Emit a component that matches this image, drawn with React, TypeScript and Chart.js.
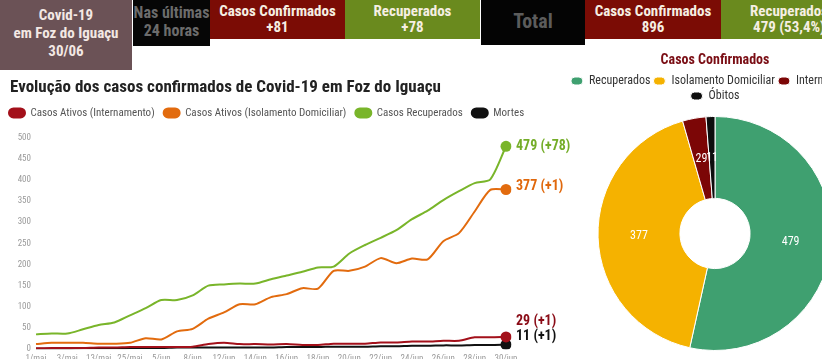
import React, { useEffect, useRef } from 'react';
import { Chart, registerables } from 'chart.js';

Chart.register(...registerables);

const FONT = "'Roboto Condensed', 'Liberation Sans Narrow', 'DejaVu Sans Condensed', 'Roboto', sans-serif";

// ---- Line chart data ----
const categories = [
  '1/mai', '2/mai', '3/mai', '8/mai', '13/mai', '19/mai', '25/mai', '30/mai',
  '5/jun', '6/jun', '8/jun', '10/jun', '12/jun', '13/jun', '14/jun', '15/jun',
  '16/jun', '17/jun', '18/jun', '19/jun', '20/jun', '21/jun', '22/jun', '23/jun',
  '24/jun', '25/jun', '26/jun', '27/jun', '28/jun', '29/jun', '30/jun',
];
const internamento = [2, 3, 3, 3, 4, 4, 5, 5, 5, 5, 6, 12, 15, 12, 12, 11, 12, 10, 10, 13, 13, 13, 16, 16, 18, 18, 20, 20, 28, 28, 29];
const isolamento = [12, 15, 15, 15, 13, 13, 15, 26, 23, 42, 48, 72, 87, 106, 106, 123, 130, 144, 143, 185, 185, 195, 215, 203, 214, 212, 255, 274, 325, 376, 377];
const recuperados = [35, 37, 37, 47, 57, 63, 80, 97, 116, 116, 127, 150, 153, 155, 155, 165, 174, 183, 193, 195, 226, 246, 263, 281, 307, 327, 352, 373, 392, 401, 479];
const mortes = [1, 1, 1, 2, 2, 2, 3, 3, 3, 4, 4, 4, 4, 4, 4, 4, 5, 5, 5, 6, 6, 6, 7, 7, 8, 8, 9, 9, 10, 10, 11];

const seriesNames = ['Casos Ativos (Internamento)', 'Casos Ativos (Isolamento Domiciliar)', 'Casos Recuperados', 'Mortes'];
const seriesColors = ['#a3101a', '#e26b0e', '#79b52a', '#111111'];
const endLabels = ['29 (+1)', '377 (+1)', '479 (+78)', '11 (+1)'];
const endLabelColors = ['#8a0b16', '#e0680c', '#74ad28', '#111111'];
const endLabelShift = [-15, -3, 0, -8];
const yTicks = { min: 0, max: 500, step: 50 };

// ---- Doughnut data ----
const pieLabels = ['Recuperados', 'Isolamento Domiciliar', 'Internamento', 'Óbitos'];
const pieValues = [479, 377, 29, 11];
const pieColors = ['#3fa070', '#f5b200', '#7c0606', '#0d0d0d'];

// ---- Header ----
const headerBoxes = [
  { lines: ['Covid-19', 'em Foz do Iguaçu', '30/06'], left: 0, width: 132, height: 70, bg: '#6b5256', color: '#f3e8e4', size: 15, weight: 700, lh: 18, pt: 6 },
  { lines: ['Nas últimas', '24 horas'], left: 133, width: 77, height: 46, bg: '#060606', color: '#6c6c6c', size: 16, weight: 700, lh: 18, pt: 4 },
  { lines: ['Casos Confirmados', '+81'], left: 210, width: 135, height: 39, bg: '#7b0c05', color: '#f6efe3', size: 15, weight: 700, lh: 16, pt: 3 },
  { lines: ['Recuperados', '+78'], left: 345, width: 135, height: 39, bg: '#6a8a1e', color: '#f6efe3', size: 15, weight: 700, lh: 16, pt: 3 },
  { lines: ['Total'], left: 481, width: 104, height: 45, bg: '#040404', color: '#5c5c5c', size: 20, weight: 700, lh: 24, pt: 9 },
  { lines: ['Casos Confirmados', '896'], left: 585, width: 136, height: 39, bg: '#7b0c05', color: '#f6efe3', size: 15, weight: 700, lh: 16, pt: 3 },
  { lines: ['Recuperados', '479 (53,4%)'], left: 721, width: 136, height: 39, bg: '#6a8a1e', color: '#f6efe3', size: 15, weight: 700, lh: 16, pt: 3 },
];

const endLabelPlugin = {
  id: 'endLabels',
  afterDatasetsDraw(chart: any) {
    const ctx = chart.ctx;
    chart.data.datasets.forEach((_ds: any, i: number) => {
      const meta = chart.getDatasetMeta(i);
      const pt = meta.data[meta.data.length - 1];
      if (!pt) return;
      ctx.save();
      ctx.font = `bold 14px ${FONT}`;
      ctx.fillStyle = endLabelColors[i];
      ctx.textBaseline = 'middle';
      ctx.textAlign = 'left';
      ctx.fillText(endLabels[i], pt.x + 10, pt.y + endLabelShift[i]);
      ctx.restore();
    });
  },
};

const makeLayoutTweak = (extraLegend: number, titleShift: number) => ({
  id: 'layoutTweak',
  beforeLayout(chart: any) {
    const lg = chart.legend;
    if (lg && !lg._patched) {
      const orig = lg.fit;
      lg.fit = function () {
        orig.call(this);
        this.height += extraLegend;
      };
      lg._patched = true;
    }
  },
  afterLayout(chart: any) {
    const t = chart.titleBlock;
    if (t && titleShift) {
      t.left += titleShift;
      t.right += titleShift;
    }
  },
});

const pieLabelPlugin = {
  id: 'pieLabels',
  afterDatasetsDraw(chart: any) {
    const ctx = chart.ctx;
    const meta = chart.getDatasetMeta(0);
    meta.data.forEach((arc: any, i: number) => {
      const p = arc.getCenterPoint();
      ctx.save();
      ctx.font = `12px ${FONT}`;
      ctx.fillStyle = '#ffffff';
      ctx.textAlign = 'center';
      ctx.textBaseline = 'middle';
      ctx.fillText(String(pieValues[i]), p.x, p.y);
      ctx.restore();
    });
  },
};

export default function App() {
  const lineRef = useRef<HTMLCanvasElement>(null);
  const pieRef = useRef<HTMLCanvasElement>(null);

  useEffect(() => {
    const seriesData = [internamento, isolamento, recuperados, mortes];
    const last = categories.length - 1;
    const line = new Chart(lineRef.current!, {
      type: 'line',
      data: {
        labels: categories,
        datasets: seriesData.map((d, i) => ({
          label: seriesNames[i],
          data: d,
          borderColor: seriesColors[i],
          backgroundColor: seriesColors[i],
          borderWidth: 2,
          tension: 0.25,
          pointRadius: (c: any) => (c.dataIndex === last ? 5.5 : 0),
          pointBorderWidth: 0,
          pointBackgroundColor: seriesColors[i],
          fill: false,
          yAxisID: 'y',
        })),
      },
      options: {
        responsive: false,
        animation: false,
        layout: { padding: 0 },
        plugins: {
          title: {
            display: true,
            text: 'Evolução dos casos confirmados de Covid-19 em Foz do Iguaçu',
            align: 'start',
            color: '#222222',
            font: { family: FONT, size: 17, weight: 'bold' },
            padding: { top: 8, bottom: 0 },
          },
          legend: {
            display: true,
            align: 'start',
            labels: {
              boxWidth: 16,
              boxHeight: 9,
              useBorderRadius: true,
              borderRadius: 4.5,
              padding: 9,
              color: '#555555',
              font: { family: FONT, size: 11 },
            },
          },
          tooltip: { enabled: false },
        },
        scales: {
          x: {
            grid: { display: false, drawTicks: false },
            border: { display: false },
            ticks: {
              autoSkip: false,
              maxRotation: 0,
              padding: 4,
              color: '#9a9a9a',
              font: { family: FONT, size: 9 },
              callback: (_v: any, idx: number) => (idx % 2 === 0 ? categories[idx] : ''),
            },
          },
          y: {
            position: 'left',
            min: yTicks.min,
            max: yTicks.max,
            grid: { display: false, drawTicks: false },
            border: { display: false },
            ticks: {
              stepSize: yTicks.step,
              padding: 5,
              color: '#9a9a9a',
              font: { family: FONT, size: 9 },
            },
            afterFit: (s: any) => {
              s.width = 36;
            },
          },
          yRight: {
            position: 'right',
            min: yTicks.min,
            max: yTicks.max,
            grid: { display: false, drawTicks: false },
            border: { display: false },
            ticks: { display: false },
            afterFit: (s: any) => {
              s.width = 74;
            },
          },
        },
      } as any,
      plugins: [endLabelPlugin, makeLayoutTweak(9, 10)],
    });

    const pie = new Chart(pieRef.current!, {
      type: 'doughnut',
      data: {
        labels: pieLabels,
        datasets: [
          {
            data: pieValues,
            backgroundColor: pieColors,
            borderColor: '#ffffff',
            borderWidth: 1,
          },
        ],
      },
      options: {
        responsive: false,
        animation: false,
        cutout: '30%',
        layout: { padding: { top: 0, bottom: 4 } },
        plugins: {
          title: {
            display: true,
            text: 'Casos Confirmados',
            color: '#7a0d14',
            font: { family: FONT, size: 14, weight: 'bold' },
            padding: { top: 6.6, bottom: 3.6 },
          },
          legend: {
            display: true,
            position: 'top',
            labels: {
              boxWidth: 12,
              boxHeight: 8,
              useBorderRadius: true,
              borderRadius: 4,
              padding: 3,
              color: '#333333',
              font: { family: FONT, size: 12 },
            },
          },
          tooltip: { enabled: false },
        },
      } as any,
      plugins: [pieLabelPlugin, makeLayoutTweak(4, 0)],
    });

    return () => {
      line.destroy();
      pie.destroy();
    };
  }, []);

  return (
    <div
      style={{
        position: 'fixed',
        left: 0,
        top: 0,
        width: 822,
        height: 359,
        overflow: 'hidden',
        background: '#ffffff',
        fontFamily: FONT,
      }}
    >
      {headerBoxes.map((b, i) => (
        <div
          key={i}
          style={{
            position: 'absolute',
            left: b.left,
            top: 0,
            width: b.width,
            height: b.height,
            background: b.bg,
            color: b.color,
            fontSize: b.size,
            fontWeight: b.weight,
            lineHeight: `${b.lh}px`,
            paddingTop: b.pt,
            boxSizing: 'border-box',
            textAlign: 'center',
            whiteSpace: 'nowrap',
          }}
        >
          {b.lines.map((l, j) => (
            <div key={j}>{l}</div>
          ))}
        </div>
      ))}
      <canvas
        ref={lineRef}
        width={580}
        height={298}
        style={{ position: 'absolute', left: 0, top: 70 }}
      />
      <canvas
        ref={pieRef}
        width={320}
        height={310}
        style={{ position: 'absolute', left: 555, top: 45 }}
      />
    </div>
  );
}
